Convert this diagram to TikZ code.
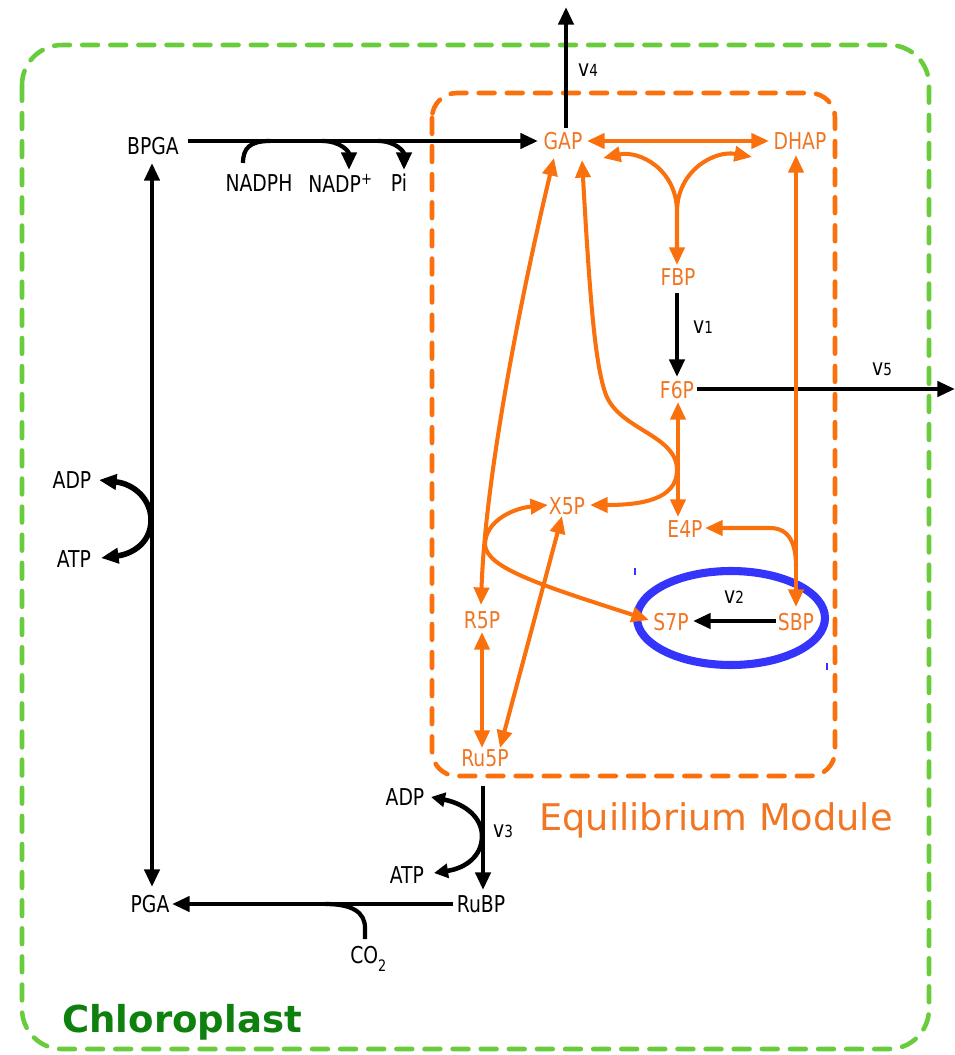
\documentclass[tikz,border=0pt]{standalone}
\usepackage{fontspec}
\setmainfont{DejaVu Sans Condensed}[FakeStretch=0.9]
\newfontfamily\widefont{DejaVu Sans}
\usetikzlibrary{arrows.meta}
\definecolor{eqorange}{RGB}{250,112,12}
\definecolor{eqtext}{RGB}{240,118,36}
\definecolor{chlgreen}{RGB}{104,204,60}
\definecolor{chltext}{RGB}{14,128,14}
\definecolor{ringblue}{RGB}{52,52,250}
\newcommand{\ratelab}[1]{v{\fontsize{9.5}{10}\selectfont #1}}
\begin{document}
\begin{tikzpicture}[x=0.02cm,y=-0.02cm,
  >={Triangle[length=10pt,width=8.5pt]},
  lab/.style={font=\fontsize{13.2}{15}\selectfont, inner sep=0pt, text=black},
  olab/.style={lab, text=eqtext},
  rlab/.style={font=\fontsize{13.2}{15}\selectfont, inner sep=0pt, text=black},
  blk/.style={line width=2.4pt, draw=black, line join=round},
  thick/.style={line width=3.2pt, draw=black, -{Triangle[length=8pt,width=8pt]}},
  org/.style={line width=2.3pt, draw=eqorange, line join=round},
  greenbox/.style={draw=chlgreen, line width=2.6pt, dash pattern=on 9pt off 7pt, line cap=round, rounded corners=0.8cm},
  orangebox/.style={draw=eqorange, line width=2.6pt, dash pattern=on 9pt off 7pt, line cap=round, rounded corners=0.5cm},
  ring/.style={draw=ringblue, line width=4.6pt}
]
\useasboundingbox (0,0) rectangle (955,1055);

% compartments
\draw[greenbox] (22,45) rectangle (929,1049);
\draw[orangebox] (432,93) rectangle (835,776);

% blue ring round v2
\draw[ring] (731,618) ellipse [x radius=94, y radius=47];
\draw[draw=ringblue, line width=0.6pt] (635,568) -- (635,575);
\draw[draw=ringblue, line width=0.6pt] (827,663) -- (827,670);

% ---------- text nodes ----------
\node[lab] (BPGA) at (153,146) {BPGA};
\node[lab] (NADPH) at (259,183) {NADPH};
\node[lab, anchor=base west] (NADP) at (308,192) {NADP\textsuperscript{+}};
\node[lab] (Pi) at (399,183) {Pi};
\node[lab] (PGA) at (150,904) {PGA};
\node[lab] (RuBP) at (481,904) {RuBP};
\node[lab] (ADPb) at (405,797) {ADP};
\node[lab] (ATPb) at (407,875) {ATP};
\node[lab] (ADPl) at (72,480) {ADP};
\node[lab] (ATPl) at (74,559) {ATP};
\node[lab, anchor=base west] (CO2) at (350,963) {CO\raisebox{-5pt}{\fontsize{9}{10}\selectfont 2}};

\node[olab] (GAP) at (563,141) {GAP};
\node[olab] (DHAP) at (800,141) {DHAP};
\node[olab] (FBP) at (678,277) {FBP};
\node[olab] (F6P) at (677,390) {F6P};
\node[olab] (X5P) at (567,506) {X5P};
\node[olab] (E4P) at (685,529) {E4P};
\node[olab] (R5P) at (482,620) {R5P};
\node[olab] (Ru5P) at (485,758) {Ru5P};
\node[olab] (S7P) at (671,622) {S7P};
\node[olab] (SBP) at (796,622) {SBP};

\node[rlab] (v4) at (588,70) {\ratelab{4}};
\node[rlab] (v1) at (703,327) {\ratelab{1}};
\node[rlab] (v5) at (882,369) {\ratelab{5}};
\node[rlab] (v2) at (734,597) {\ratelab{2}};
\node[rlab] (v3) at (503,831) {\ratelab{3}};

\node[anchor=base west, inner sep=0pt, text=eqtext, font=\widefont\fontsize{20.9}{24}\selectfont] (eqm) at (539,830) {Equilibrium Module};
\node[anchor=base west, inner sep=0pt, text=chltext, font=\widefont\bfseries\fontsize{21.1}{24}\selectfont] (chl) at (62,1032) {Chloroplast};

% ---------- connector end points ----------
\coordinate (bpgaE) at (188,141);
\coordinate (gapW) at (538,141);
\coordinate (gapN) at (566,128);
\coordinate (out4) at (566,7);
\coordinate (bpgaS) at (152,163);
\coordinate (pgaN) at (152,887);
\coordinate (nadphN) at (243,163);
\coordinate (nadpN) at (349,170);
\coordinate (piN) at (404,170);
\coordinate (adplE) at (99,480);
\coordinate (atplE) at (101,558);
\coordinate (fbpS) at (677,293);
\coordinate (f6pN) at (677,377);
\coordinate (f6pE) at (697,389);
\coordinate (out5) at (955,389);
\coordinate (sbpW) at (776,621);
\coordinate (s7pE) at (693,621);
\coordinate (ru5pS) at (483,786);
\coordinate (rubpN) at (483,890);
\coordinate (adpbE) at (431,797);
\coordinate (atpbE) at (434,873);
\coordinate (rubpW) at (453,904);
\coordinate (pgaE) at (172,904);
\coordinate (co2N) at (365,939);

\coordinate (gapE) at (587,141);
\coordinate (dhapW) at (769,141);
\coordinate (forkL) at (603,158);
\coordinate (forkR) at (752,157);
\coordinate (forkJ) at (677,212);
\coordinate (fbpN) at (677,265);
\coordinate (dhapS) at (796,155);
\coordinate (sbpN) at (796,607);
\coordinate (e4pE) at (705,528);
\coordinate (gapSW) at (554,158);
\coordinate (r5pN) at (481,605);
\coordinate (x5pW) at (548,505);
\coordinate (s7pW) at (649,620);
\coordinate (gapS) at (582,160);
\coordinate (x5pE) at (590,505);
\coordinate (f6pS) at (678,402);
\coordinate (e4pN) at (678,517);
\coordinate (x5pS) at (562,516);
\coordinate (ru5pNE) at (500,748);
\coordinate (r5pS) at (482,632);
\coordinate (ru5pN) at (482,748);

% ---------- black connectors ----------
\draw[blk,->] (bpgaE) -- (gapW);
\draw[blk,->] (gapN) -- (out4);
\draw[blk,<->] (bpgaS) -- (pgaN);
\draw[blk] (nadphN) .. controls (243,148) and (250,141) .. (270,141);
\draw[blk,->] (322,141) .. controls (341,141) and (349,152) .. (nadpN);
\draw[blk,->] (378,141) .. controls (396,141) and (404,152) .. (piN);
\draw[blk,->] (fbpS) -- (f6pN);
\draw[blk,->] (f6pE) -- (out5);
\draw[blk,->] (sbpW) -- (s7pE);
\draw[blk,->] (ru5pS) -- (rubpN);
\draw[blk,->] (rubpW) -- (pgaE);
\draw[blk] (co2N) -- (365,928) .. controls (365,912) and (352,904) .. (325,904);
\draw[thick,<->] (adplE) .. controls (135,484) and (151,500) .. (151,520) .. controls (151,543) and (132,554) .. (atplE);
\draw[line width=2.6pt, draw=black, {Triangle[length=8pt,width=8pt]}-{Triangle[length=8pt,width=8pt]}] (adpbE) .. controls (466,804) and (482,818) .. (482,836) .. controls (482,856) and (466,868) .. (atpbE);

% ---------- orange connectors ----------
\draw[org,<->] (gapE) -- (dhapW);
\draw[org,<->] (forkL) .. controls (640,150) and (677,170) .. (forkJ) -- (fbpN);
\draw[org,->] (forkJ) .. controls (677,170) and (715,150) .. (forkR);
\draw[org,<->] (dhapS) -- (sbpN);
\draw[org,->] (796,566) .. controls (796,545) and (790,528) .. (770,528) -- (e4pE);
\draw[org,<->] (gapSW) .. controls (520,300) and (485,480) .. (r5pN);
\draw[org,<->] (x5pW) .. controls (515,508) and (485,520) .. (485,545) .. controls (487,568) and (540,585) .. (s7pW);
\draw[org,<->] (gapS) .. controls (590,300) and (595,365) .. (606,395) .. controls (620,430) and (677,435) .. (677,470) .. controls (677,500) and (640,505) .. (x5pE);
\draw[org,<->] (f6pS) -- (e4pN);
\draw[org,<->] (x5pS) -- (ru5pNE);
\draw[org,<->] (r5pS) -- (ru5pN);
\end{tikzpicture}
\end{document}
